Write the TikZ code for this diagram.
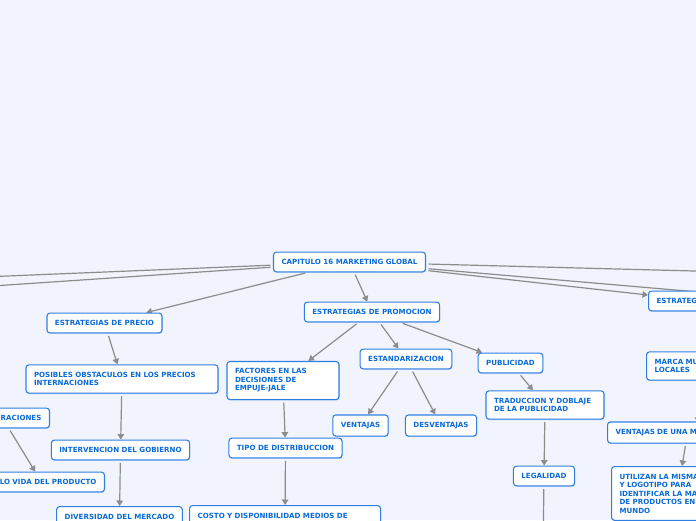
\documentclass[tikz,border=0pt]{standalone}
\usepackage{fontspec}
\setmainfont{DejaVu Sans}
\usetikzlibrary{arrows.meta,shadows}
\definecolor{bg}{HTML}{F1F4FD}
\definecolor{boxline}{HTML}{2F7FE3}
\definecolor{boxtext}{HTML}{0A6AD8}
\definecolor{linkgray}{HTML}{8C8C8C}
\pgfdeclarelayer{bgfill}
\pgfdeclarelayer{links}
\pgfsetlayers{bgfill,links,main}

\begin{document}
\begin{tikzpicture}[x=1pt,y=-1pt,>={Triangle[length=5.5pt,width=6.5pt]},
  box/.style={draw=boxline,line width=1.1pt,fill=white,rounded corners=3pt,
    text=boxtext,font=\fontsize{7.1}{8.5}\selectfont\bfseries,
    inner xsep=8pt,inner ysep=7.2pt,
    drop shadow={shadow xshift=0.4pt,shadow yshift=-0.9pt,fill=boxline,opacity=0.35}},
  link/.style={->,draw=linkgray,line width=1.2pt,shorten <=2.5pt}]

\useasboundingbox (0,0) rectangle (696,520);
\begin{pgfonlayer}{bgfill}
\fill[bg] (0,0) rectangle (696,520);
\end{pgfonlayer}

\node[box] (cap) at (349.5,262) {CAPITULO 16 MARKETING GLOBAL};
\node[box] (precio) at (104.5,323) {ESTRATEGIAS DE PRECIO};
\node[box] (promo) at (372,312) {ESTRATEGIAS DE PROMOCION};
\node[box,anchor=west,text width=92pt,align=left] (estrat) at (648,301) {ESTRATEG};

\node[box,text width=176pt,align=left] (obst) at (122,379) {POSIBLES OBSTACULOS EN LOS PRECIOS\\INTERNACIONES};
\node[box,anchor=east,text width=78pt,align=right] (consid) at (50,418) {RACIONES};
\node[box] (gob) at (120.5,450) {INTERVENCION DEL GOBIERNO};
\node[box,anchor=east,text width=110pt,align=right] (ciclo) at (105,482) {LO VIDA DEL PRODUCTO};
\node[box,anchor=north] (divers) at (119.5,506) {DIVERSIDAD DEL MERCADO};

\node[box,text width=96pt,align=left] (factores) at (283,380.5) {FACTORES EN LAS\\DECISIONES DE\\EMPUJE-JALE};
\node[box] (estand) at (406,359) {ESTANDARIZACION};
\node[box] (publi) at (510.5,363) {PUBLICIDAD};
\node[box] (vent) at (360.5,425.5) {VENTAJAS};
\node[box] (desvent) at (441,425.5) {DESVENTAJAS};
\node[box] (tipo) at (285.5,448) {TIPO DE DISTRIBUCCION};
\node[box,anchor=north west,text width=175pt,align=left] (costo) at (189,505) {COSTO Y DISPONIBILIDAD MEDIOS DE};
\node[box,text width=102pt,align=left] (trad) at (545,405) {TRADUCCION Y DOBLAJE\\DE LA PUBLICIDAD};
\node[box] (legal) at (544,476) {LEGALIDAD};

\node[box,anchor=west,text width=88pt,align=left] (marca) at (646,366) {MARCA MU\\LOCALES};
\node[box,anchor=west,text width=144pt,align=left] (ventm) at (607,432.5) {VENTAJAS DE UNA M};
\node[box,anchor=north west,text width=116pt,align=left] (utiliza) at (611,466) {UTILIZAN LA MISMA\\Y LOGOTIPO PARA\\IDENTIFICAR LA MA\\DE PRODUCTOS EN\\MUNDO};

\coordinate (offL1) at (-300,288.6);
\coordinate (offL2) at (-300,305.7);
\coordinate (offR1) at (1000,279);
\coordinate (offR2) at (1000,318);
\coordinate (legalout) at (543,560);
\coordinate (mtip) at (698,423);

\begin{pgfonlayer}{links}
\draw[link] (cap) -- (offL1);
\draw[link] (cap) -- (offL2);
\draw[link] (cap) -- (offR1);
\draw[link] (cap) -- (offR2);
\draw[link] (cap) -- (estrat);
\draw[link] (cap) -- (precio);
\draw[link] (cap) -- (promo);

\draw[link] (precio) -- (obst);
\draw[link] (obst) -- (gob);
\draw[link] (gob) -- (divers);
\draw[link] (consid) -- (ciclo);

\draw[link] (promo) -- (factores);
\draw[link] (promo) -- (estand);
\draw[link] (promo) -- (publi);
\draw[link] (estand) -- (vent);
\draw[link] (estand) -- (desvent);
\draw[link] (factores) -- (tipo);
\draw[link] (tipo) -- (costo);
\draw[link] (publi) -- (trad);
\draw[link] (trad) -- (legal);
\draw[link] (legal) -- (legalout);

\draw[link] (marca) -- (mtip);
\draw[link] (ventm) -- (utiliza);
\end{pgfonlayer}

\end{tikzpicture}
\end{document}
